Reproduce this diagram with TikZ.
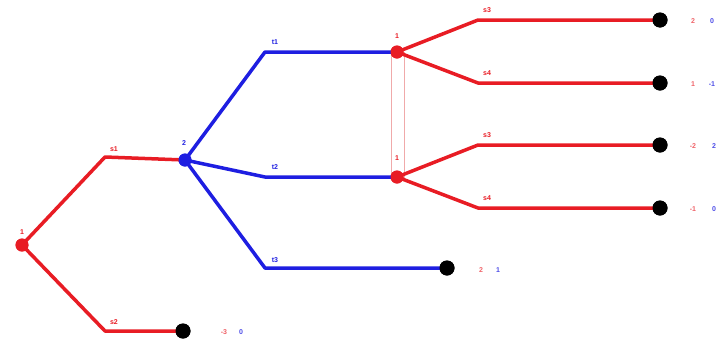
\documentclass[tikz,border=0pt]{standalone}
\usepackage{fontspec}
\setmainfont{Liberation Sans}
\definecolor{tred}{RGB}{232,28,36}
\definecolor{tblue}{RGB}{30,30,225}
\definecolor{pink}{RGB}{240,170,170}
\begin{document}
\begin{tikzpicture}[x=1pt,y=-1pt,
  redline/.style={draw=tred,line width=3.5pt,line join=round},
  blueline/.style={draw=tblue,line width=3.5pt,line join=round},
  rdot/.style={circle,fill=tred,inner sep=0pt,minimum size=13pt},
  bdot/.style={circle,fill=tblue,inner sep=0pt,minimum size=13pt},
  kdot/.style={circle,fill=black,inner sep=0pt,minimum size=15pt},
  lab/.style={font=\fontsize{7}{8}\selectfont\bfseries,inner sep=0pt},
  rlab/.style={lab,text=tred},
  blab/.style={lab,text=tblue},
  plab/.style={lab,text=tred!70},
  qlab/.style={lab,text=tblue!80}]
\useasboundingbox (0,0) rectangle (721,338);
% information set
\draw[pink,line width=0.6pt] (391,52) rectangle (404,177);
% nodes
\node[rdot] (r) at (22,245) {};
\node[bdot] (b) at (185,160) {};
\node[rdot] (u) at (397,52) {};
\node[rdot] (l) at (397,177) {};
\node[kdot] (z0) at (183,331) {};
\node[kdot] (z1) at (447,268) {};
\node[kdot] (z2) at (660,20) {};
\node[kdot] (z3) at (660,83) {};
\node[kdot] (z4) at (660,145) {};
\node[kdot] (z5) at (660,208) {};
% elbows
\coordinate (e1) at (105,157);
\coordinate (e2) at (105,331);
\coordinate (f1) at (265,52);
\coordinate (f2) at (265,177);
\coordinate (f3) at (265,268);
\coordinate (g1) at (478,20);
\coordinate (g2) at (478,83);
\coordinate (g3) at (478,145);
\coordinate (g4) at (478,208);
% edges
\draw[redline] (r.center) -- (e1) -- (b.center);
\draw[redline] (r.center) -- (e2) -- (z0.center);
\draw[blueline] (b.center) -- (f1) -- (u.center);
\draw[blueline] (b.center) -- (f2) -- (l.center);
\draw[blueline] (b.center) -- (f3) -- (z1.center);
\draw[redline] (u.center) -- (g1) -- (z2.center);
\draw[redline] (u.center) -- (g2) -- (z3.center);
\draw[redline] (l.center) -- (g3) -- (z4.center);
\draw[redline] (l.center) -- (g4) -- (z5.center);
% redraw dots on top
\node[rdot] at (r) {};
\node[bdot] at (b) {};
\node[rdot] at (u) {};
\node[rdot] at (l) {};
\node[kdot] at (z0) {};
\node[kdot] at (z1) {};
\node[kdot] at (z2) {};
\node[kdot] at (z3) {};
\node[kdot] at (z4) {};
\node[kdot] at (z5) {};
% player labels
\node[rlab] (lr) at (22,232) {1};
\node[blab] (lb) at (184,143) {2};
\node[rlab] (lu) at (397,36) {1};
\node[rlab] (ll) at (397,158) {1};
% action labels
\node[rlab] (a1) at (114,149) {s1};
\node[rlab] (a2) at (114,322) {s2};
\node[blab] (a3) at (275,42) {t1};
\node[blab] (a4) at (275,167) {t2};
\node[blab] (a5) at (275,260) {t3};
\node[rlab] (a6) at (487,10) {s3};
\node[rlab] (a7) at (487,73) {s4};
\node[rlab] (a8) at (487,135) {s3};
\node[rlab] (a9) at (487,198) {s4};
% payoffs
\node[plab] (p0a) at (224,332) {-3};
\node[qlab] (p0b) at (241,332) {0};
\node[plab] (p1a) at (481,270) {2};
\node[qlab] (p1b) at (498,270) {1};
\node[plab] (p2a) at (693,21) {2};
\node[qlab] (p2b) at (712,21) {0};
\node[plab] (p3a) at (693,84) {1};
\node[qlab] (p3b) at (712,84) {-1};
\node[plab] (p4a) at (693,146) {-2};
\node[qlab] (p4b) at (714,146) {2};
\node[plab] (p5a) at (693,209) {-1};
\node[qlab] (p5b) at (714,209) {0};
\end{tikzpicture}
\end{document}
